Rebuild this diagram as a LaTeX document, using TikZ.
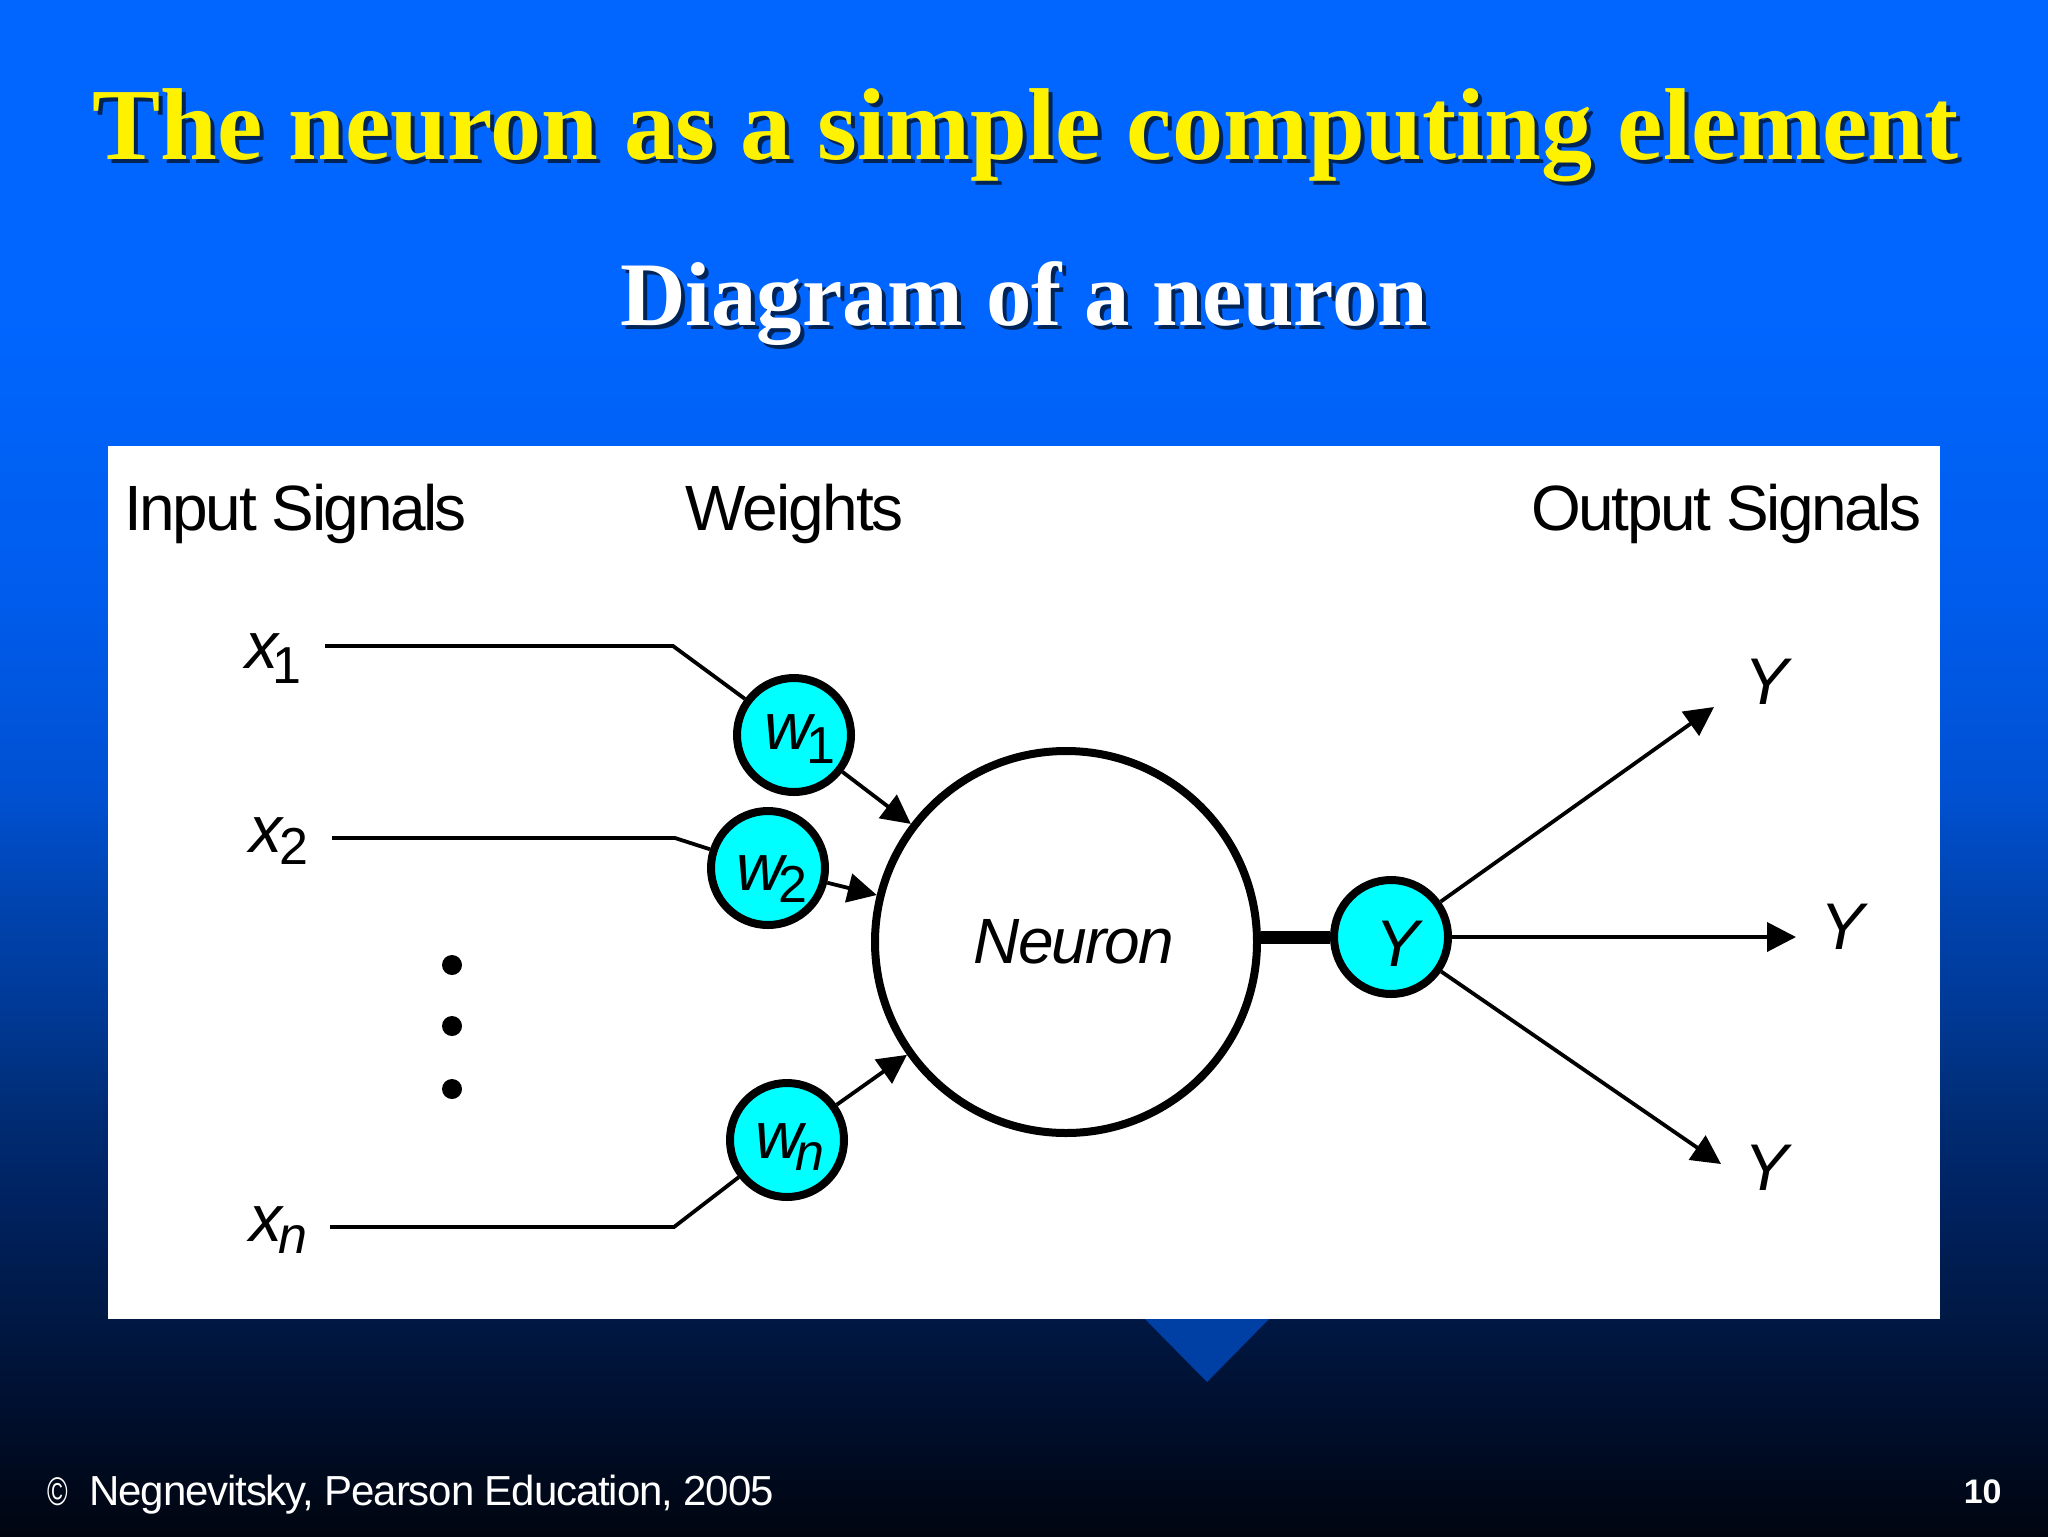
\documentclass[tikz,border=0pt]{standalone}
\usepackage{fontspec}
\setmainfont{Liberation Sans}
\newfontfamily\serifbold[Ligatures=TeX]{Liberation Serif Bold}
\usetikzlibrary{arrows.meta}
\newfontfamily\tightsans[LetterSpace=-3]{Liberation Sans}
\newfontfamily\tighterhead[LetterSpace=-3.9]{Liberation Sans}
\newfontfamily\footsans[LetterSpace=-2.7]{Liberation Sans}
\definecolor{triblue}{HTML}{0040A4}
\definecolor{cyanfill}{HTML}{00FFFF}
\definecolor{shadowtitle}{HTML}{002458}
\definecolor{c0}{HTML}{000510}
\definecolor{c1}{HTML}{000818}
\definecolor{c2}{HTML}{001030}
\definecolor{c3}{HTML}{001A48}
\definecolor{c4}{HTML}{002260}
\definecolor{c5}{HTML}{002E78}
\definecolor{c6}{HTML}{003A98}
\definecolor{c7}{HTML}{0044B0}
\definecolor{c8}{HTML}{0050D0}
\definecolor{c9}{HTML}{005CEC}
\definecolor{c10}{HTML}{0066FF}
% TikZ fits the path to the inner 25bp--75bp band of the shading
\pgfdeclareverticalshading{slidebgb}{100bp}{
  color(0bp)=(c0);
  color(25bp)=(c0);
  color(26.2bp)=(c1);
  color(29.4bp)=(c2);
  color(32.7bp)=(c3);
  color(35.9bp)=(c4);
  color(39.2bp)=(c5);
  color(42.4bp)=(c6);
  color(45.7bp)=(c7);
  color(49bp)=(c8);
  color(55.5bp)=(c9);
  color(64.8bp)=(c10);
  color(100bp)=(c10)}
\tikzset{
  sig/.style={line width=1.9pt,black},
  sigarrow/.style={sig,-{Triangle[length=14.5pt,width=14.5pt]}},
  weightnode/.style={circle,draw=black,fill=cyanfill,line width=4pt,minimum size=57pt,inner sep=0pt,font=\fontsize{33}{34}\selectfont\tightsans\itshape,text=black,text depth=4pt},
  sumnode/.style={circle,draw=black,fill=white,line width=4pt,minimum size=191pt,inner sep=0pt,font=\fontsize{32}{34}\selectfont\tightsans\itshape},
  head/.style={anchor=base west,font=\fontsize{32}{34}\selectfont\tighterhead,text=black,inner sep=0pt},
  lab/.style={anchor=base,font=\fontsize{33}{34}\selectfont\tightsans\itshape,text=black,inner sep=0pt},
  xlab/.style={lab,anchor=base west},
  dotnode/.style={circle,fill=black,minimum size=10pt,inner sep=0pt},
}
% #1 text, #2 kern, #3 drop (pt)
\newcommand{\subn}[3]{\kern-#2pt\raisebox{-#3pt}{\fontsize{26}{26}\selectfont\itshape #1}}
\newcommand{\subr}[3]{\kern-#2pt\raisebox{-#3pt}{\fontsize{26}{26}\selectfont\upshape #1}}
\begin{document}
\begin{tikzpicture}[x=0.5pt,y=-0.5pt]
\useasboundingbox (0,0) rectangle (2048,1536);
\shade[shading=slidebgb] (0,0) rectangle (2048,1536);
% titles
\node[anchor=base west,inner sep=0pt,text=shadowtitle,font=\fontsize{51.1}{52}\selectfont\serifbold] (titleshadow) at (96,163) {The neuron as a simple computing element};
\node[anchor=base west,inner sep=0pt,text=yellow,font=\fontsize{51.1}{52}\selectfont\serifbold] (title) at (92,159) {The neuron as a simple computing element};
\node[anchor=base west,inner sep=0pt,text=shadowtitle,font=\fontsize{45.4}{46}\selectfont\serifbold] (subshadow) at (624,329) {Diagram of a neuron};
\node[anchor=base west,inner sep=0pt,text=white,font=\fontsize{45.4}{46}\selectfont\serifbold] (subtitle) at (620,325) {Diagram of a neuron};
% triangle and panel
\fill[triblue] (1145,1319) -- (1269,1319) -- (1207,1382) -- cycle;
\fill[white] (108,446) rectangle (1940,1319);
% headings
\node[head] (hin) at (124,530) {Input Signals};
\node[head,font=\fontsize{32}{34}\selectfont\tightsans] (hw) at (685,530) {Weights};
\node[head] (hout) at (1531,530) {Output Signals};
% neuron and weights
\node[sumnode] (neuron) at (1066,942) {\hspace*{8pt}Neuron};
\node[weightnode,text height=18pt] (w1) at (794,735) {\hspace*{6pt}w\subr{1}{3}{7}};
\node[weightnode,text height=26.8pt] (w2) at (768,868) {\hspace*{4pt}w\subr{2}{3}{6}};
\node[weightnode,text height=22.8pt] (wn) at (787,1140) {\hspace*{3pt}w\subn{n}{3.5}{6}};
\node[weightnode,text height=33pt] (yc) at (1391,937) {\hspace*{6pt}Y};
% labels
\node[xlab] (x1) at (245,668) {x\subr{1}{3}{7.5}};
\node[xlab] (x2) at (249,852) {x\subr{2}{1.5}{6}};
\node[xlab] (xn) at (249,1241) {x\subn{n}{2}{6}};
\node[dotnode] (d1) at (452,965) {};
\node[dotnode] (d2) at (452,1026) {};
\node[dotnode] (d3) at (452,1089) {};
\node[lab] (y1) at (1766,704) {Y};
\node[lab] (y2) at (1842,949) {Y};
\node[lab] (y3) at (1766,1190) {Y};
% connectors
\coordinate (s1) at (325,646);
\coordinate (c1) at (673,646);
\coordinate (s2) at (332,838);
\coordinate (c2) at (675,838);
\coordinate (sn) at (330,1227);
\coordinate (cn) at (674,1227);
\draw[sig] (s1) -- (c1) -- (w1);
\draw[sig] (s2) -- (c2) -- (w2);
\draw[sig] (sn) -- (cn) -- (wn);
\draw[sigarrow] (w1) -- (neuron);
\draw[sigarrow] (w2) -- (neuron);
\draw[sigarrow] (wn) -- (neuron);
\draw[line width=6.5pt] (neuron.east |- yc.center) -- (yc);
\coordinate (t1) at (1714,707);
\coordinate (t2) at (1796,937);
\coordinate (t3) at (1721,1164);
\draw[sigarrow] (yc) -- (t1);
\draw[sigarrow] (yc) -- (t2);
\draw[sigarrow] (yc) -- (t3);
% footer
\node[anchor=base west,inner sep=0pt,text=white,font=\fontsize{20}{22}\selectfont] (copy) at (47,1505) {\scalebox{0.7}[1]{\copyright}};
\node[anchor=base west,inner sep=0pt,text=white,font=\fontsize{21}{22}\selectfont\footsans] (foot) at (89,1505) {Negnevitsky, Pearson Education, 2005};
\node[anchor=base east,inner sep=0pt,text=white,font=\fontsize{17}{18}\selectfont\bfseries] (page) at (2002,1503) {10};
\end{tikzpicture}
\end{document}
